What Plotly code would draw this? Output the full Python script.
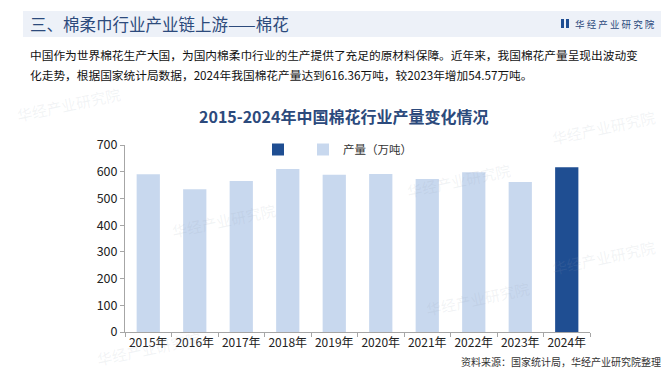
import plotly.graph_objects as go

years = ["2015年", "2016年", "2017年", "2018年", "2019年", "2020年", "2021年", "2022年", "2023年", "2024年"]
output = [590.7, 534.3, 565.3, 610.3, 588.9, 591.0, 573.1, 598.0, 561.8, 616.36]
series_name = "产量（万吨）"
y_ticks = [0, 100, 200, 300, 400, 500, 600, 700]

W, H = 669, 372
CJK = "Noto Sans CJK SC"
NUM = "Liberation Sans Narrow, Noto Sans CJK SC"

def px(x):
    return x / W

def py(y):
    return 1 - y / H

fig = go.Figure()
fig.add_trace(go.Bar(x=years[-1:], y=output[-1:], name="",
                     marker=dict(color="#1F4E92", line=dict(width=0)), showlegend=True))
fig.add_trace(go.Bar(x=years[:-1], y=output[:-1], name=series_name,
                     marker=dict(color="#C8D8EE", line=dict(width=0))))

fig.update_layout(
    width=W, height=H,
    template="none",
    margin=dict(l=0, r=0, t=0, b=0),
    paper_bgcolor="white", plot_bgcolor="rgba(0,0,0,0)",
    barmode="overlay", bargap=0.5,
    showlegend=True,
    legend=dict(orientation="h", x=px(250), y=py(127), xanchor="left", yanchor="top",
                font=dict(family=CJK, size=11.5, color="#333333"), bgcolor="rgba(0,0,0,0)",
                traceorder="normal", itemwidth=30),
    xaxis=dict(domain=[px(117), px(582)], type="category", categoryorder="array",
               categoryarray=years, showgrid=False, showline=True, linecolor="#A6A6A6",
               linewidth=1, ticks="outside", tickson="boundaries", ticklen=4, tickangle=0,
               tickcolor="#A6A6A6", tickfont=dict(family=NUM, size=12, color="#222222"),
               automargin=False, zeroline=False),
    yaxis=dict(domain=[py(324), py(137)], range=[0, 700], tickvals=y_ticks,
               showgrid=False, showline=True, linecolor="#A6A6A6", linewidth=1,
               ticks="outside", ticklen=4, tickcolor="#A6A6A6",
               tickfont=dict(family=NUM, size=12.5, color="#222222"),
               automargin=False, zeroline=False),
)

shapes = [
    dict(type="rect", xref="paper", yref="paper", x0=px(15), x1=px(656), y0=py(29), y1=py(3),
         fillcolor="#EDF1F8", line=dict(width=0), layer="below"),
    dict(type="rect", xref="paper", yref="paper", x0=px(553), x1=px(556), y0=py(20), y1=py(11),
         fillcolor="#1F4E92", line=dict(width=0)),
    dict(type="rect", xref="paper", yref="paper", x0=px(558), x1=px(561), y0=py(20), y1=py(11),
         fillcolor="#1F4E92", line=dict(width=0)),
]
fig.update_layout(shapes=shapes)

ann = []
ann.append(dict(text="三、棉柔巾行业产业链上游——棉花", x=px(20), y=py(16), xanchor="left", yanchor="middle",
                font=dict(family=CJK, size=16.5, color="#2C4A7C")))
ann.append(dict(text="华 经 产 业 研 究 院", x=px(565), y=py(16), xanchor="left", yanchor="middle",
                font=dict(family=CJK, size=9.5, color="#2C4A7C")))
ann.append(dict(text="中国作为世界棉花生产大国，为国内棉柔巾行业的生产提供了充足的原材料保障。近年来，我国棉花产量呈现出波动变",
                x=px(20), y=py(46), xanchor="left", yanchor="middle",
                font=dict(family=CJK, size=11.7, color="#111111")))
ann.append(dict(text="化走势，根据国家统计局数据，2024年我国棉花产量达到616.36万吨，较2023年增加54.57万吨。",
                x=px(20), y=py(66), xanchor="left", yanchor="middle",
                font=dict(family=CJK, size=11.7, color="#111111")))
ann.append(dict(text="<b>2015-2024年中国棉花行业产量变化情况</b>", x=px(335), y=py(108), xanchor="center", yanchor="middle",
                font=dict(family=CJK, size=16, color="#2C4A7C")))
ann.append(dict(text="资料来源：国家统计局，华经产业研究院整理", x=px(655), y=py(353), xanchor="right", yanchor="middle",
                font=dict(family=CJK, size=10, color="#333333")))

# faint watermarks
for (x, y) in [(60, 96), (450, 172), (215, 212), (470, 290), (140, 340), (595, 120), (595, 250)]:
    ann.append(dict(text="华经产业研究院", x=px(x), y=py(y), xanchor="center", yanchor="middle",
                    textangle=-12, font=dict(family=CJK, size=15, color="rgba(150,160,180,0.13)")))

for a in ann:
    a.update(xref="paper", yref="paper", showarrow=False)
fig.update_layout(annotations=ann)

fig.write_html("out.html")
